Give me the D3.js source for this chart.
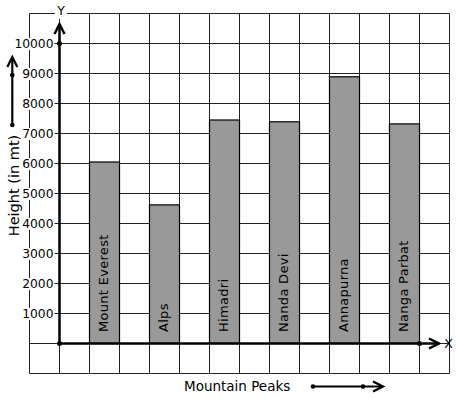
<!DOCTYPE html>
<html>
<meta charset="utf-8">
<head>
  <script src="https://d3js.org/d3.v7.min.js"></script>
</head>
<style>
  body { margin: 0; background: #fff; }
  svg text { font-family: 'DejaVu Sans', sans-serif; fill: #000; }
</style>
<body>
<script>
  // data
  var peaks = ["Mount Everest", "Alps", "Himadri", "Nanda Devi", "Annapurna", "Nanga Parbat"];
  var heights = [6050, 4620, 7450, 7390, 8890, 7320];
  var yTicks = [1000, 2000, 3000, 4000, 5000, 6000, 7000, 8000, 9000, 10000];

  var w = 457, h = 399;
  var svg = d3.select("body").append("svg")
      .attr("width", w)
      .attr("height", h);

  // one unit = one grid cell
  var x = d3.scaleLinear().domain([-1, 13]).range([29.5, 449.5]);
  var y = d3.scaleLinear().domain([-1000, 11000]).range([373.5, 13.5]);
  var cell = x(1) - x(0);

  // grid
  var grid = svg.append("g").attr("stroke", "#222").attr("stroke-width", 1);
  grid.selectAll("line.v")
    .data(d3.range(-1, 14))
    .enter().append("line")
    .attr("x1", function(d) { return x(d); })
    .attr("x2", function(d) { return x(d); })
    .attr("y1", y(11000))
    .attr("y2", y(-1000));
  grid.selectAll("line.h")
    .data(d3.range(-1000, 11001, 1000))
    .enter().append("line")
    .attr("y1", function(d) { return y(d); })
    .attr("y2", function(d) { return y(d); })
    .attr("x1", x(-1))
    .attr("x2", x(13));

  // bars
  svg.selectAll("rect.bar")
    .data(heights)
    .enter().append("rect")
    .attr("class", "bar")
    .attr("x", function(d, i) { return x(2 * i + 1); })
    .attr("width", cell)
    .attr("y", function(d) { return y(d); })
    .attr("height", function(d) { return y(0) - y(d); })
    .attr("fill", "#999999")
    .attr("stroke", "#000")
    .attr("stroke-width", 1.2);

  svg.selectAll("text.barlabel")
    .data(peaks)
    .enter().append("text")
    .attr("class", "barlabel")
    .attr("transform", function(d, i) {
      return "translate(" + (x(2 * i + 1.5) + 3.5) + "," + (y(0) - 11.5) + ") rotate(-90)";
    })
    .style("font-size", "13px")
    .style("letter-spacing", "0.3px")
    .text(function(d) { return d; });

  // y tick labels with white backing
  var yAxis = svg.append("g")
    .attr("transform", "translate(" + x(0) + ",0)")
    .call(d3.axisLeft(y).tickValues(yTicks).tickFormat(d3.format("d")).tickSize(0).tickPadding(6));
  yAxis.select(".domain").remove();
  yAxis.selectAll("text")
    .style("font-family", "'DejaVu Sans', sans-serif")
    .style("font-size", "12.3px")
    .attr("fill", "#000");
  yAxis.selectAll(".tick").each(function() {
    var t = d3.select(this).select("text");
    var b = t.node().getBBox();
    d3.select(this).insert("rect", "text")
      .attr("x", b.x - 1).attr("y", b.y + 1)
      .attr("width", b.width + 2).attr("height", b.height - 2)
      .attr("fill", "#fff");
  });

  // axes
  var ax = svg.append("g").attr("stroke", "#000").attr("fill", "none")
    .attr("stroke-width", 2.5);
  ax.append("line")
    .attr("x1", x(0)).attr("x2", x(0))
    .attr("y1", y(0)).attr("y2", 24);
  ax.append("path")
    .attr("d", "M" + (x(0) - 5) + ",34L" + x(0) + ",24L" + (x(0) + 5) + ",34");
  ax.append("line")
    .attr("x1", x(0)).attr("x2", 439)
    .attr("y1", y(0)).attr("y2", y(0));
  ax.append("path")
    .attr("d", "M429," + (y(0) - 5) + "L439," + y(0) + "L429," + (y(0) + 5));

  // dots on axes
  var dots = [[x(0), y(0)], [x(0), y(10000)], [x(12), y(0)]];
  svg.selectAll("circle.dot")
    .data(dots)
    .enter().append("circle")
    .attr("cx", function(d) { return d[0]; })
    .attr("cy", function(d) { return d[1]; })
    .attr("r", 2.5)
    .attr("fill", "#000");

  // axis letters
  svg.append("rect").attr("x", 55).attr("y", 5).attr("width", 12).attr("height", 14).attr("fill", "#fff");
  svg.append("text").attr("x", x(0) + 1.5).attr("y", 14.5)
    .attr("text-anchor", "middle").style("font-size", "12.5px").text("Y");
  svg.append("text").attr("x", 448.5).attr("y", y(0) + 4.5)
    .attr("text-anchor", "middle").style("font-size", "12.5px").text("X");

  // axis titles
  svg.append("text")
    .attr("transform", "translate(18.5,185.5) rotate(-90)")
    .attr("text-anchor", "middle")
    .style("font-size", "14.5px")
    .text("Height (in mt)");
  svg.append("text")
    .attr("x", 184).attr("y", 390.5)
    .style("font-size", "13.5px")
    .text("Mountain Peaks");

  // side arrows
  var arr = svg.append("g").attr("stroke", "#000").attr("fill", "none").attr("stroke-width", 2.2);
  arr.append("line").attr("x1", 12.3).attr("x2", 12.3).attr("y1", 125).attr("y2", 57);
  arr.append("path").attr("d", "M7.3,67L12.3,57L17.3,67");
  svg.append("circle").attr("cx", 12.3).attr("cy", 75).attr("r", 2.3).attr("fill", "#000");
  svg.append("circle").attr("cx", 12.3).attr("cy", 125).attr("r", 2.3).attr("fill", "#000");

  arr.append("line").attr("x1", 313).attr("x2", 383).attr("y1", 386.5).attr("y2", 386.5);
  arr.append("path").attr("d", "M373,381.5L383,386.5L373,391.5");
  svg.append("circle").attr("cx", 313).attr("cy", 386.5).attr("r", 2.3).attr("fill", "#000");
  svg.append("circle").attr("cx", 363).attr("cy", 386.5).attr("r", 2.3).attr("fill", "#000");
</script>
</body>
</html>
